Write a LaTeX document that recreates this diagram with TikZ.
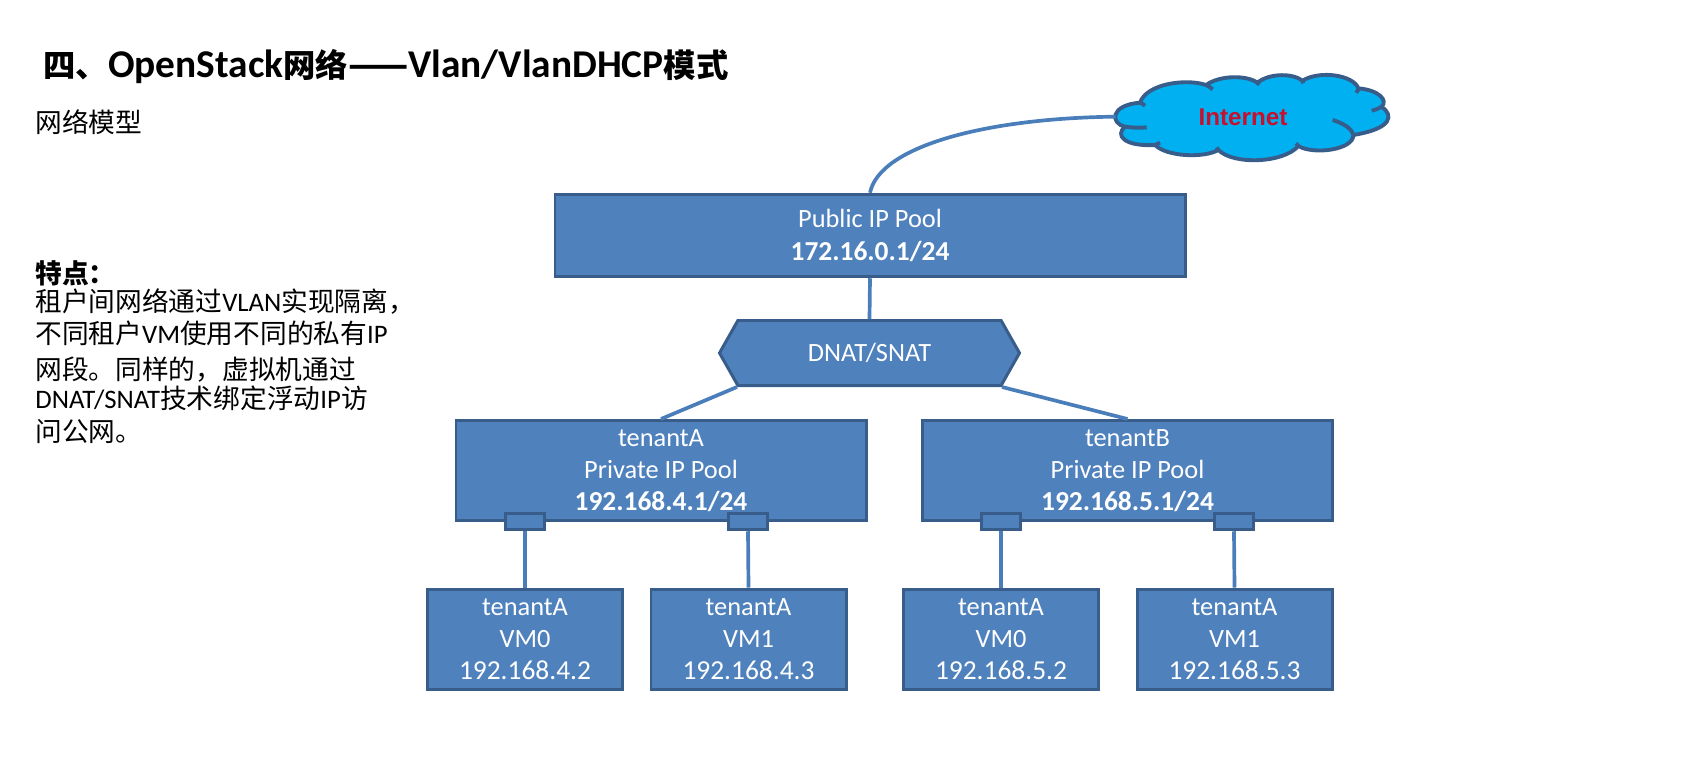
\documentclass[tikz,border=0pt]{standalone}
\usepackage{fontspec}
\setmainfont{Carlito}
\newfontfamily\cjk{Noto Sans CJK SC}
\newfontfamily\netfont{Liberation Sans}
\usetikzlibrary{shapes.symbols}
\definecolor{boxfill}{HTML}{4F81BD}
\definecolor{boxline}{HTML}{385D8A}
\definecolor{wireline}{HTML}{4A7EBB}
\definecolor{skyfill}{HTML}{00B0F0}
\definecolor{netred}{HTML}{C8102E}
\newcommand{\ipline}[1]{{\fontsize{15.6}{18.4}\selectfont #1}}
\newcommand{\headcjk}[1]{{\fontsize{18.4}{24}\selectfont\cjk #1}}
\tikzstyle{graph}=[font=\fontsize{15}{18.4}\selectfont]
\tikzstyle{pool}=[draw=boxline, line width=1.7pt, fill=boxfill, text=white, align=center, inner sep=0pt, minimum width=8.2cm, minimum height=2cm]
\tikzstyle{vm}=[pool, minimum width=3.9cm]
\tikzstyle{port}=[draw=boxline, line width=1.7pt, fill=boxfill, inner sep=0pt, minimum width=0.78cm, minimum height=0.33cm]
\tikzstyle{gate}=[pool, signal, signal to=east and west, signal pointer angle=121, minimum width=6cm, minimum height=1.3cm]
\tikzstyle{edge}=[draw=wireline, line width=2.1pt]
\tikzstyle{cloudline}=[draw=boxline, line width=2.2pt]
\tikzstyle{heading}=[anchor=west, inner sep=0pt, font=\fontsize{22.4}{24}\selectfont\bfseries]
\tikzstyle{notes}=[anchor=north west, inner sep=0pt, align=left, font=\fontsize{15.2}{18.5}\selectfont]

\begin{document}
\begin{tikzpicture}[graph]
	\useasboundingbox (0,0) rectangle (34.02,-15.12);
	\draw (0.86,-1.33) node[heading] (title) {\headcjk{四、}OpenStack\headcjk{网络}{\fontsize{20}{24}\selectfont\cjk ——}Vlan/VlanDHCP\headcjk{模式}};
	\draw (0.70,-2.44) node[anchor=west, inner sep=0pt, font=\fontsize{15.2}{18}\selectfont] (subtitle) {\cjk 网络模型};
	\draw (0.70,-5.20) node[notes] (points) {{\cjk\bfseries 特点：}\\[-2.5pt]
		{\cjk 租户间网络通过}VLAN{\cjk 实现隔离，}\\
		{\cjk 不同租户}VM{\cjk 使用不同的私有}IP\\[2pt]
		{\cjk 网段。同样的，虚拟机通过}\\[-2pt]
		DNAT/SNAT{\cjk 技术绑定浮动}IP{\cjk 访}\\
		{\cjk 问公网。}};
	% cloud
	\begin{scope}[shift={(21,-1.2)}, x=0.00667cm, y=-0.00667cm]
		\draw[cloudline, fill=skyfill] (270,128)
			.. controls (290,70) and (410,55) .. (468,75)
			.. controls (510,45) and (590,45) .. (622,68)
			.. controls (660,38) and (730,40) .. (757,62)
			.. controls (810,30) and (910,45) .. (925,85)
			.. controls (985,90) and (1015,120) .. (995,140)
			.. controls (1030,165) and (1030,205) .. (910,225)
			.. controls (910,270) and (790,285) .. (745,258)
			.. controls (700,310) and (550,315) .. (505,270)
			.. controls (460,295) and (350,290) .. (315,255)
			.. controls (220,260) and (195,225) .. (225,200)
			.. controls (180,190) and (180,135) .. (270,128) -- cycle;
		\draw[cloudline] (468,75) .. controls (475,78) and (482,82) .. (488,88);
		\draw[cloudline] (622,68) .. controls (625,70) and (626,72) .. (628,74);
		\draw[cloudline] (757,62) .. controls (759,65) and (760,67) .. (760,70);
		\draw[cloudline] (925,85) .. controls (925,90) and (922,94) .. (918,98);
		\draw[cloudline] (995,140) .. controls (985,146) and (975,150) .. (965,152);
		\draw[cloudline] (910,225) .. controls (905,205) and (880,190) .. (848,180);
		\draw[cloudline] (745,258) .. controls (742,255) and (740,252) .. (738,250);
		\draw[cloudline] (505,270) .. controls (503,268) and (501,265) .. (500,262);
		\draw[cloudline] (315,255) .. controls (320,252) and (325,250) .. (330,248);
		\draw[cloudline] (225,200) .. controls (245,203) and (270,204) .. (290,202);
		\draw[cloudline] (270,128) .. controls (275,130) and (280,133) .. (285,137);
		\coordinate (cloudwest) at (197,170);
	\end{scope}
	\draw (24.86,-2.34) node[inner sep=0pt, text=netred, font=\fontsize{13.8}{18}\selectfont\netfont\bfseries] (internet) {Internet};
	%
	\draw (17.40,-4.71) node[pool, minimum width=12.6cm, minimum height=1.65cm] (public) {Public IP Pool\\ \ipline{\textbf{172.16.0.1/24}}};
	\draw (17.39,-7.06) node[gate] (dnat) {DNAT/SNAT};
	\draw (13.22,-9.41) node[pool] (poolA) {tenantA\\ Private IP Pool\\ \ipline{\textbf{192.168.4.1/24}}};
	\draw (22.55,-9.41) node[pool] (poolB) {tenantB\\ Private IP Pool\\ \ipline{\textbf{192.168.5.1/24}}};
	%
	\draw (10.50,-10.43) node[port] (portA0) {};
	\draw (14.96,-10.43) node[port] (portA1) {};
	\draw (20.02,-10.43) node[port] (portB0) {};
	\draw (24.68,-10.43) node[port] (portB1) {};
	%
	\draw (10.50,-12.78) node[vm] (vmA0) {tenantA\\ VM0\\ \ipline{192.168.4.2}};
	\draw (14.97,-12.78) node[vm] (vmA1) {tenantA\\ VM1\\ \ipline{192.168.4.3}};
	\draw (20.02,-12.78) node[vm] (vmB0) {tenantA\\ VM0\\ \ipline{192.168.5.2}};
	\draw (24.69,-12.78) node[vm] (vmB1) {tenantA\\ VM1\\ \ipline{192.168.5.3}};
	%
	\draw[edge] (public.north) .. controls (17.6,-2.9) and (19.8,-2.36) .. (cloudwest);
	\draw[edge] (public.south) -- (dnat.north);
	\draw[edge] (dnat.south west) -- (poolA.north);
	\draw[edge] (dnat.south east) -- (poolB.north);
	\draw[edge] (portA0.south) -- (vmA0.north);
	\draw[edge] (portA1.south) -- (vmA1.north);
	\draw[edge] (portB0.south) -- (vmB0.north);
	\draw[edge] (portB1.south) -- (vmB1.north);
\end{tikzpicture}
\end{document}
